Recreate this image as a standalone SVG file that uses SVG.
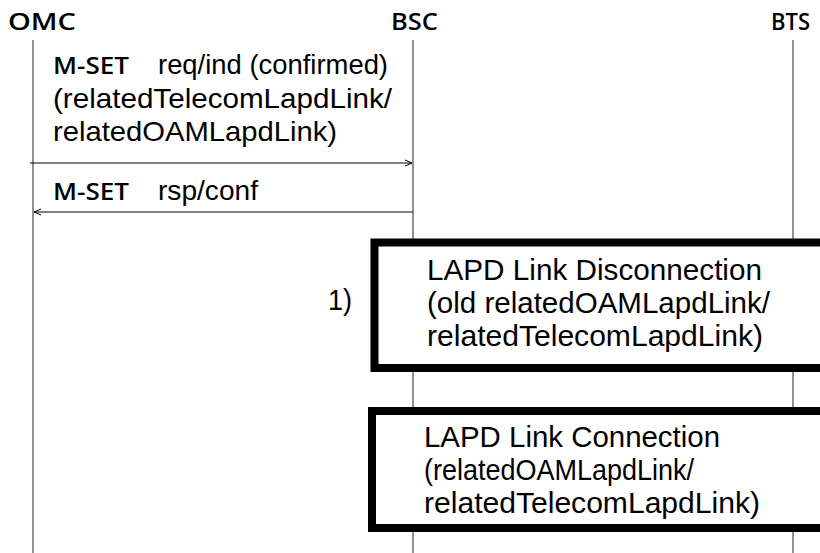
<svg xmlns="http://www.w3.org/2000/svg" width="820" height="553" viewBox="0 0 820 553">
<style>
.hdr{font-family:"Open Sans","Noto Sans","DejaVu Sans",sans-serif;font-weight:600;font-size:23px;fill:#000}
.kw{font-family:"Open Sans","Noto Sans","DejaVu Sans",sans-serif;font-weight:600;font-size:24px;fill:#000}
.msg{font-family:"Liberation Sans",Arial,sans-serif;font-size:28px;fill:#000}
.box{font-family:"Liberation Sans",Arial,sans-serif;font-size:29px;fill:#000}
.life{stroke:#222;stroke-width:1;fill:none}
.arrow{stroke:#000;stroke-width:1;fill:none}
.frame{fill:#fff;stroke:#000;stroke-width:8}
</style>
<defs>
<marker id="ah" markerUnits="userSpaceOnUse" markerWidth="10" markerHeight="10" refX="7" refY="4" orient="auto">
<path d="M0,1 L7,4 L0,7" fill="none" stroke="#000" stroke-width="1"/>
</marker>
</defs>
<rect width="820" height="553" fill="#fff"/>
<g id="OMC">
<text class="hdr" x="8" y="30" textLength="68" lengthAdjust="spacingAndGlyphs">OMC</text>
<line class="life" x1="33" y1="40" x2="33" y2="553"/>
</g>
<g id="BSC">
<text class="hdr" x="391" y="30" textLength="47" lengthAdjust="spacingAndGlyphs">BSC</text>
<line class="life" x1="413" y1="40" x2="413" y2="553"/>
</g>
<g id="BTS">
<text class="hdr" x="771" y="30" textLength="39" lengthAdjust="spacingAndGlyphs">BTS</text>
<line class="life" x1="793" y1="40" x2="793" y2="553"/>
</g>
<g id="connectors">
<line class="arrow" x1="30" y1="163" x2="412" y2="163" marker-end="url(#ah)"/>
<line class="arrow" x1="413" y1="212" x2="34" y2="212" marker-end="url(#ah)"/>
</g>
<g id="msg1">
<text class="kw" x="53" y="74" textLength="76" lengthAdjust="spacingAndGlyphs">M-SET</text>
<text class="msg" x="158" y="74" textLength="230" lengthAdjust="spacingAndGlyphs">req/ind (confirmed)</text>
<text class="msg" x="53" y="108" textLength="339" lengthAdjust="spacingAndGlyphs">(relatedTelecomLapdLink/</text>
<text class="msg" x="53" y="141" textLength="284" lengthAdjust="spacingAndGlyphs">relatedOAMLapdLink)</text>
</g>
<g id="msg2">
<text class="kw" x="53" y="200" textLength="76" lengthAdjust="spacingAndGlyphs">M-SET</text>
<text class="msg" x="158" y="200" textLength="100" lengthAdjust="spacingAndGlyphs">rsp/conf</text>
</g>
<g id="disconnection">
<text class="box" x="328" y="310" textLength="24" lengthAdjust="spacingAndGlyphs">1)</text>
<rect class="frame" x="374.5" y="242.5" width="460" height="125.5"/>
<text class="box" x="427" y="280" textLength="335" lengthAdjust="spacingAndGlyphs">LAPD Link Disconnection</text>
<text class="box" x="427" y="313" textLength="343" lengthAdjust="spacingAndGlyphs">(old relatedOAMLapdLink/</text>
<text class="box" x="427" y="346" textLength="336" lengthAdjust="spacingAndGlyphs">relatedTelecomLapdLink)</text>
</g>
<g id="connection">
<rect class="frame" x="372" y="411" width="460" height="117"/>
<text class="box" x="424" y="447" textLength="296" lengthAdjust="spacingAndGlyphs">LAPD Link Connection</text>
<text class="box" x="424" y="480" textLength="270" lengthAdjust="spacingAndGlyphs">(relatedOAMLapdLink/</text>
<text class="box" x="424" y="513" textLength="336" lengthAdjust="spacingAndGlyphs">relatedTelecomLapdLink)</text>
</g>
</svg>
